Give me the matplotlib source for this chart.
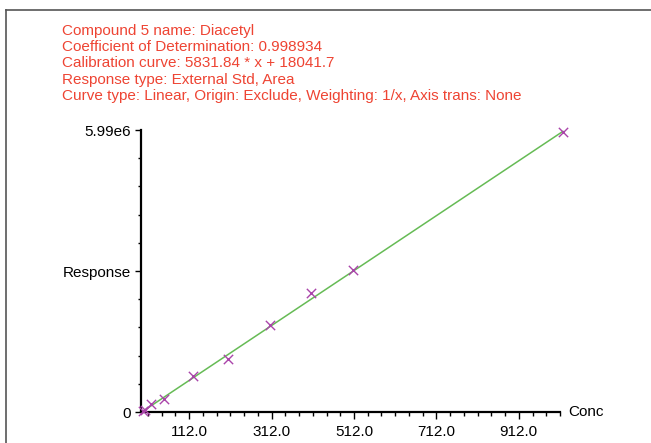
"""Calibration curve for Diacetyl (compound 5)."""

import numpy as np
import matplotlib.pyplot as plt
from matplotlib.lines import Line2D

plt.rcParams["font.family"] = ["Liberation Sans", "DejaVu Sans"]

# calibration standards
conc = [1, 5, 20, 50, 122, 206, 307, 408, 509, 1019]
response = [0.02e6, 0.04e6, 0.17e6, 0.28e6, 0.765e6, 1.126e6, 1.848e6, 2.528e6, 3.016e6, 5.95e6]

slope = 5831.84
intercept = 18041.7
y_max = 5.99e6

header = [
    "Compound 5 name: Diacetyl",
    "Coefficient of Determination: 0.998934",
    "Calibration curve: 5831.84 * x + 18041.7",
    "Response type: External Std, Area",
    "Curve type: Linear, Origin: Exclude, Weighting: 1/x, Axis trans: None",
]

x_major = [112, 312, 512, 712, 912]
x_labels = ["112.0", "312.0", "512.0", "712.0", "912.0"]
y_major = [0, y_max / 2, y_max]
y_labels = ["0", "Response", "5.99e6"]

RED = "#ee4433"
W, H = 651, 443


def main() -> None:
    fig = plt.figure(figsize=(W / 100, H / 100), dpi=100)

    # outer frame of the report panel (only top and left edges are in view)
    top, left = 1 - 10 / H, 6 / W
    fig.add_artist(Line2D([left, 1], [top, top], transform=fig.transFigure,
                          color="#555555", linewidth=1.2))
    fig.add_artist(Line2D([left, left], [0, top], transform=fig.transFigure,
                          color="#555555", linewidth=1.2))

    for i, line in enumerate(header):
        fig.text(62 / W, 1 - (31 + 16.2 * i) / H, line, color=RED,
                 fontsize=11, va="center", ha="left")

    ax = fig.add_axes([141 / W, 31 / H, 419 / W, 282 / H])
    ax.set_xlim(-5, 1012)
    ax.set_ylim(0, y_max)

    xs = np.array([0, conc[-1]])
    ax.plot(xs, slope * xs + intercept, color="#66bb55", linewidth=1.1,
            clip_on=False, zorder=2)
    ax.scatter(conc, response, marker="x", s=45, color="#aa44aa",
               linewidths=1.0, clip_on=False, zorder=3)

    for side in ("top", "right"):
        ax.spines[side].set_visible(False)
    for side in ("left", "bottom"):
        ax.spines[side].set_linewidth(1.6)
        ax.spines[side].set_color("black")

    ax.set_xticks(x_major)
    ax.set_xticklabels(x_labels)
    ax.set_xticks([12 + k * 100 / 3 for k in range(31)], minor=True)
    ax.set_yticks(y_major)
    ax.set_yticklabels(y_labels)
    ax.set_yticks([y_max * k / 10 for k in range(11)], minor=True)

    ax.tick_params(axis="x", which="major", length=5, width=1.0, pad=4, labelsize=11)
    ax.tick_params(axis="x", which="minor", length=3, width=1.0)
    ax.tick_params(axis="y", which="major", length=4, width=1.0, pad=3, labelsize=11)
    ax.tick_params(axis="y", which="minor", length=2.5, width=1.0)

    ax.text(1.02, 0, "Conc", transform=ax.transAxes, fontsize=11,
            ha="left", va="center")

    fig.savefig("out.png", dpi=100)
    plt.close(fig)


if __name__ == "__main__":
    main()
